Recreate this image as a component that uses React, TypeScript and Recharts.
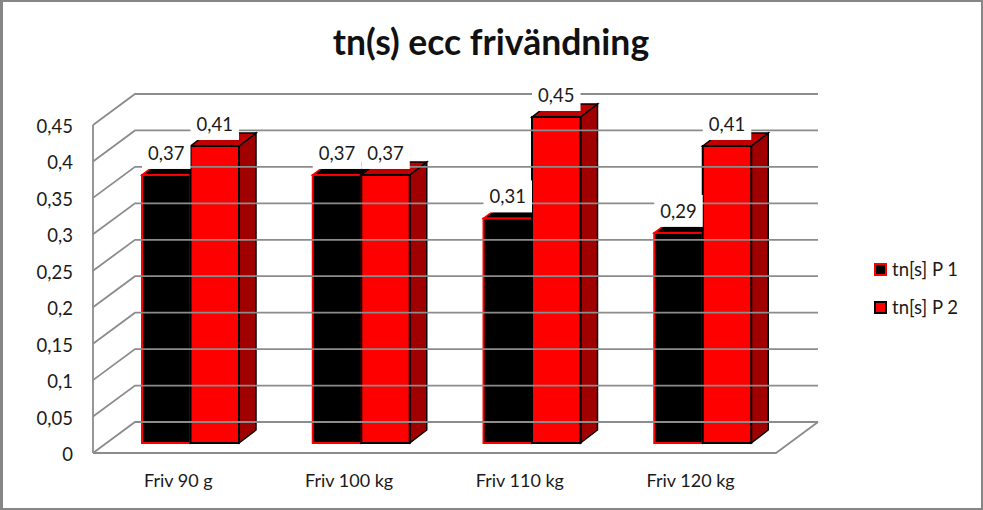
import { BarChart, Bar, XAxis, YAxis, Legend, LabelList } from 'recharts';

const categories = ['Friv 90 g', 'Friv 100 kg', 'Friv 110 kg', 'Friv 120 kg'];
const seriesP1 = [0.37, 0.37, 0.31, 0.29];
const seriesP2 = [0.41, 0.37, 0.45, 0.41];
const yTicks = [0, 0.05, 0.1, 0.15, 0.2, 0.25, 0.3, 0.35, 0.4, 0.45];

const chartData = categories.map((name, i) => ({ name, p1: seriesP1[i], p2: seriesP2[i] }));

const FONT = 'Lato, "Open Sans", sans-serif';
const GRID = '#8c8c8c';
const TEXT = '#1a1a1a';

// fake 3D: bars stand a bit behind the front edge of the floor
const DEPTH_X = 17;
const DEPTH_Y = 13;
const FRONT_X = -12;
const FRONT_Y = 10;
const BACK_X = 30;
const BACK_Y = -21;
const PLOT_LEFT = 105;
const PLOT_WIDTH = 683;
const PLOT_TOP = 117;
const PLOT_BOTTOM = 443;
const WALL_SCALE = 328 / 326; // walls are drawn slightly taller than the bars

const comma = (v: number) => String(v).replace('.', ',');

function WallTick({ x, y, payload }: any) {
  const value = payload.value;
  const axisX = PLOT_LEFT + FRONT_X;
  const backX = PLOT_LEFT + BACK_X;
  const wallY = PLOT_BOTTOM - (PLOT_BOTTOM - y) * WALL_SCALE;
  const frontY = wallY + FRONT_Y;
  const backY = wallY + BACK_Y;
  return (
    <g>
      <polyline
        points={`${axisX},${frontY} ${backX},${backY} ${backX + PLOT_WIDTH},${backY}`}
        fill="none"
        stroke={GRID}
        strokeWidth={1.8}
      />
      {value === 0 && (
        <>
          <polyline
            points={`${axisX},${frontY} ${axisX + PLOT_WIDTH},${frontY} ${backX + PLOT_WIDTH},${backY}`}
            fill="none"
            stroke={GRID}
            strokeWidth={1.8}
          />
          <line x1={axisX} y1={frontY} x2={axisX} y2={frontY - 328} stroke={GRID} strokeWidth={1.8} />
        </>
      )}
      <text x={73} y={frontY + 8} textAnchor="end" fontFamily={FONT} fontSize={18.5} fill={TEXT}>
        {comma(value)}
      </text>
    </g>
  );
}

function CategoryTick({ x, payload }: any) {
  return (
    <text x={x + FRONT_X} y={487} textAnchor="middle" fontFamily={FONT} fontSize={18} fill={TEXT}>
      {payload.value}
    </text>
  );
}

function Box3D({ x, y, width, height, fill, stroke, topFill, sideFill }: any) {
  const r = x + width;
  const b = y + height;
  const dx = DEPTH_X;
  const dy = DEPTH_Y;
  return (
    <g>
      <polygon
        points={`${r},${y} ${r + dx},${y - dy} ${r + dx},${b - dy} ${r},${b}`}
        fill={sideFill}
        stroke="#000"
        strokeWidth={1.5}
      />
      <polygon
        points={`${x},${y} ${x + dx},${y - dy} ${r + dx},${y - dy} ${r},${y}`}
        fill={topFill}
        stroke={stroke}
        strokeWidth={1.5}
      />
      <rect x={x} y={y} width={width} height={height} fill={fill} stroke={stroke} strokeWidth={2} />
    </g>
  );
}

function ValueLabel({ x, y, width, value }: any) {
  const boxBottom = y - 6;
  return (
    <g>
      <rect x={x} y={boxBottom - 32} width={width} height={32} fill="#fff" />
      <text x={x + width / 2} y={boxBottom - 9} textAnchor="middle" fontFamily={FONT} fontSize={18.5} fill={TEXT}>
        {comma(value)}
      </text>
    </g>
  );
}

function LegendBox() {
  const items = [
    { label: 'tn[s] P 1', fill: '#000', stroke: '#f00' },
    { label: 'tn[s] P 2', fill: '#f00', stroke: '#000' },
  ];
  return (
    <div style={{ fontFamily: FONT, fontSize: 18.5, color: TEXT, whiteSpace: 'nowrap' }}>
      {items.map((item) => (
        <div key={item.label} style={{ display: 'flex', alignItems: 'center', height: 38 }}>
          <span
            style={{
              display: 'block',
              boxSizing: 'border-box',
              width: 13,
              height: 13,
              marginRight: 5,
              background: item.fill,
              border: `2px solid ${item.stroke}`,
            }}
          />
          {item.label}
        </div>
      ))}
    </div>
  );
}

export default function App() {
  return (
    <div style={{ position: 'absolute', left: 0, top: 0, width: 983, height: 510, background: '#fff', overflow: 'hidden' }}>
      <BarChart
        width={983}
        height={510}
        data={chartData}
        margin={{ top: PLOT_TOP, right: 983 - PLOT_LEFT - PLOT_WIDTH, left: 0, bottom: 0 }}
        barGap={0}
        barSize={48.5}
      >
        <YAxis
          width={PLOT_LEFT}
          domain={[0, 0.45]}
          ticks={yTicks}
          interval={0}
          axisLine={false}
          tickLine={false}
          tick={WallTick}
        />
        <XAxis dataKey="name" height={510 - PLOT_BOTTOM} axisLine={false} tickLine={false} interval={0} tick={CategoryTick} />
        <Legend
          layout="vertical"
          align="center"
          verticalAlign="middle"
          content={LegendBox}
          wrapperStyle={{ left: 874, top: 250, width: 105 }}
        />
        <Bar
          dataKey="p1"
          isAnimationActive={false}
          fill="#000"
          stroke="#f00"
          shape={(props: any) => <Box3D {...props} topFill="#000" sideFill="#000" />}
        >
          <LabelList dataKey="p1" content={ValueLabel} />
        </Bar>
        <Bar
          dataKey="p2"
          isAnimationActive={false}
          fill="#f00"
          stroke="#000"
          shape={(props: any) => <Box3D {...props} topFill="#c00000" sideFill="#a00000" />}
        >
          <LabelList dataKey="p2" content={ValueLabel} />
        </Bar>
      </BarChart>
      <div
        style={{
          position: 'absolute',
          left: 0,
          top: 22,
          width: 982,
          textAlign: 'center',
          fontFamily: FONT,
          fontWeight: 700,
          fontSize: 35.5,
          lineHeight: '40px',
          color: '#111',
        }}
      >
        tn(s) ecc frivändning
      </div>
      <div
        style={{
          position: 'absolute',
          inset: 0,
          borderStyle: 'solid',
          borderColor: '#868686',
          borderWidth: '2px 2px 2px 3px',
          pointerEvents: 'none',
        }}
      />
    </div>
  );
}
